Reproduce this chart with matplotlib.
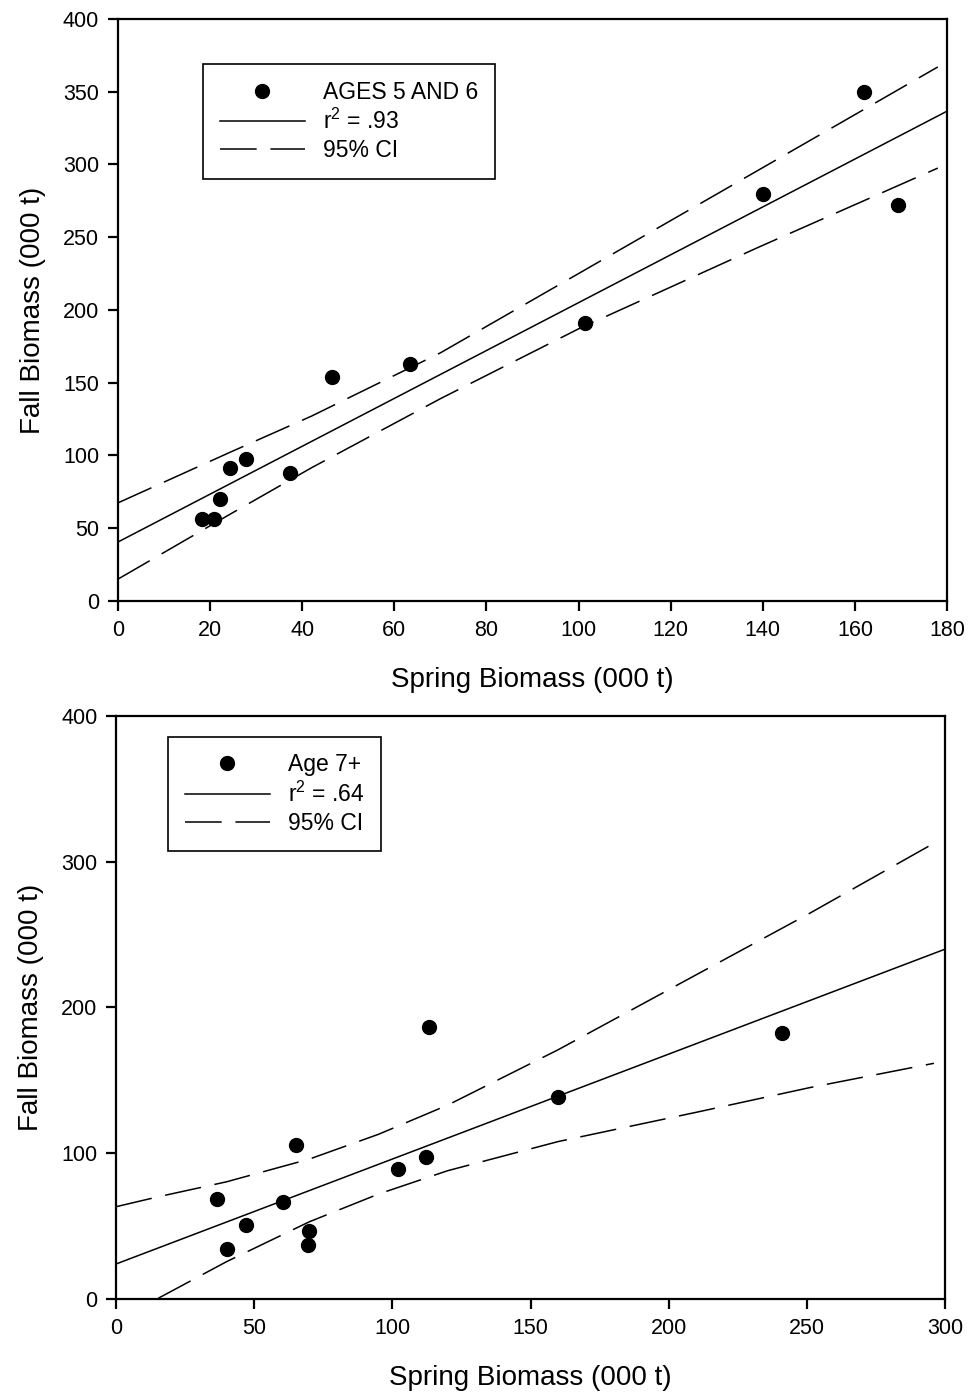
import matplotlib
matplotlib.use("Agg")
import matplotlib.pyplot as plt

plt.rcParams['font.family'] = ['Liberation Sans', 'DejaVu Sans']
plt.rcParams['mathtext.default'] = 'regular'

# top panel: ages 5 and 6
top_spring = [18.2, 20.8, 22.1, 24.3, 27.7, 37.3, 46.4, 63.4, 101.5, 140.1, 162.0, 169.3]
top_fall = [56.4, 56.4, 70.1, 91.2, 97.6, 88.2, 154.2, 162.7, 191.3, 279.5, 349.6, 272.2]
top_fit_x = [0, 180]
top_fit_y = [40.5, 336.6]
top_ci_x = [0, 24, 42, 70, 100, 139, 178]
top_ci_upper = [67.4, 101.7, 127, 170.5, 225, 296, 367]
top_ci_lower = [15, 59, 91.5, 139, 187, 243, 297.5]

# bottom panel: age 7+
bot_spring = [36.7, 40.3, 46.9, 60.6, 65.0, 69.9, 69.4, 101.9, 112.0, 113.4, 159.8, 240.9]
bot_fall = [68.8, 34.5, 50.8, 66.2, 105.9, 46.9, 37.0, 89.2, 97.4, 186.6, 138.8, 182.7]
bot_fit_x = [0, 300]
bot_fit_y = [24, 240]
bot_ci_x_up = [0, 15, 40, 70, 95, 120, 160, 211, 251, 296]
bot_ci_upper = [63.3, 70, 80.4, 96, 113, 133, 171, 223.5, 264.6, 312.7]
bot_ci_x_lo = [15.3, 40, 70, 95, 120, 160, 211, 251, 296]
bot_ci_lower = [0.5, 25.6, 53, 72, 88, 108, 128.5, 145, 161.7]

fig = plt.figure(figsize=(9.71, 13.93), dpi=100)
ax1 = fig.add_axes([0.1215, 0.5686, 0.8538, 0.4178])
ax2 = fig.add_axes([0.1195, 0.0675, 0.8537, 0.4185])

dash = (0, (24, 9))


def style(ax, xmax, xstep, ystep):
    ax.set_xlim(0, xmax)
    ax.set_ylim(0, 400)
    ax.set_xticks(range(0, xmax + 1, xstep))
    ax.set_yticks(range(0, 401, ystep))
    for s in ax.spines.values():
        s.set_linewidth(1.6)
    ax.tick_params(direction='out', length=7.5, width=1.6, labelsize=15.5, pad=6,
                   top=False, right=False)
    ax.set_xlabel('Spring Biomass (000 t)', fontsize=20, labelpad=19)
    ax.set_ylabel('Fall Biomass (000 t)', fontsize=20, labelpad=12)


# top
ax1.plot(top_spring, top_fall, 'o', color='black', markersize=10, label='AGES 5 AND 6')
ax1.plot(top_fit_x, top_fit_y, '-', color='black', lw=1.1, label='r$^{2}$ = .93')
ax1.plot(top_ci_x, top_ci_upper, color='black', lw=1.1, linestyle=dash, label='95% CI')
ax1.plot(top_ci_x, top_ci_lower, color='black', lw=1.1, linestyle=dash)
style(ax1, 180, 20, 50)
leg1 = ax1.legend(loc='upper left', bbox_to_anchor=(0.102, 0.923), borderaxespad=0,
                  fontsize=16.5, numpoints=1, handlelength=3.7, handletextpad=0.8,
                  labelspacing=0.22, borderpad=0.75, fancybox=False, framealpha=1,
                  edgecolor='black')
leg1.get_frame().set_linewidth(1.2)

# bottom
ax2.plot(bot_spring, bot_fall, 'o', color='black', markersize=10, label='Age 7+')
ax2.plot(bot_fit_x, bot_fit_y, '-', color='black', lw=1.1, label='r$^{2}$ = .64')
ax2.plot(bot_ci_x_up, bot_ci_upper, color='black', lw=1.1, linestyle=dash, label='95% CI')
ax2.plot(bot_ci_x_lo, bot_ci_lower, color='black', lw=1.1, linestyle=dash)
style(ax2, 300, 50, 100)
leg2 = ax2.legend(loc='upper left', bbox_to_anchor=(0.063, 0.964), borderaxespad=0,
                  fontsize=16.5, numpoints=1, handlelength=3.7, handletextpad=0.8,
                  labelspacing=0.22, borderpad=0.72, fancybox=False, framealpha=1,
                  edgecolor='black')
leg2.get_frame().set_linewidth(1.2)

plt.savefig('out.png', dpi=100)
